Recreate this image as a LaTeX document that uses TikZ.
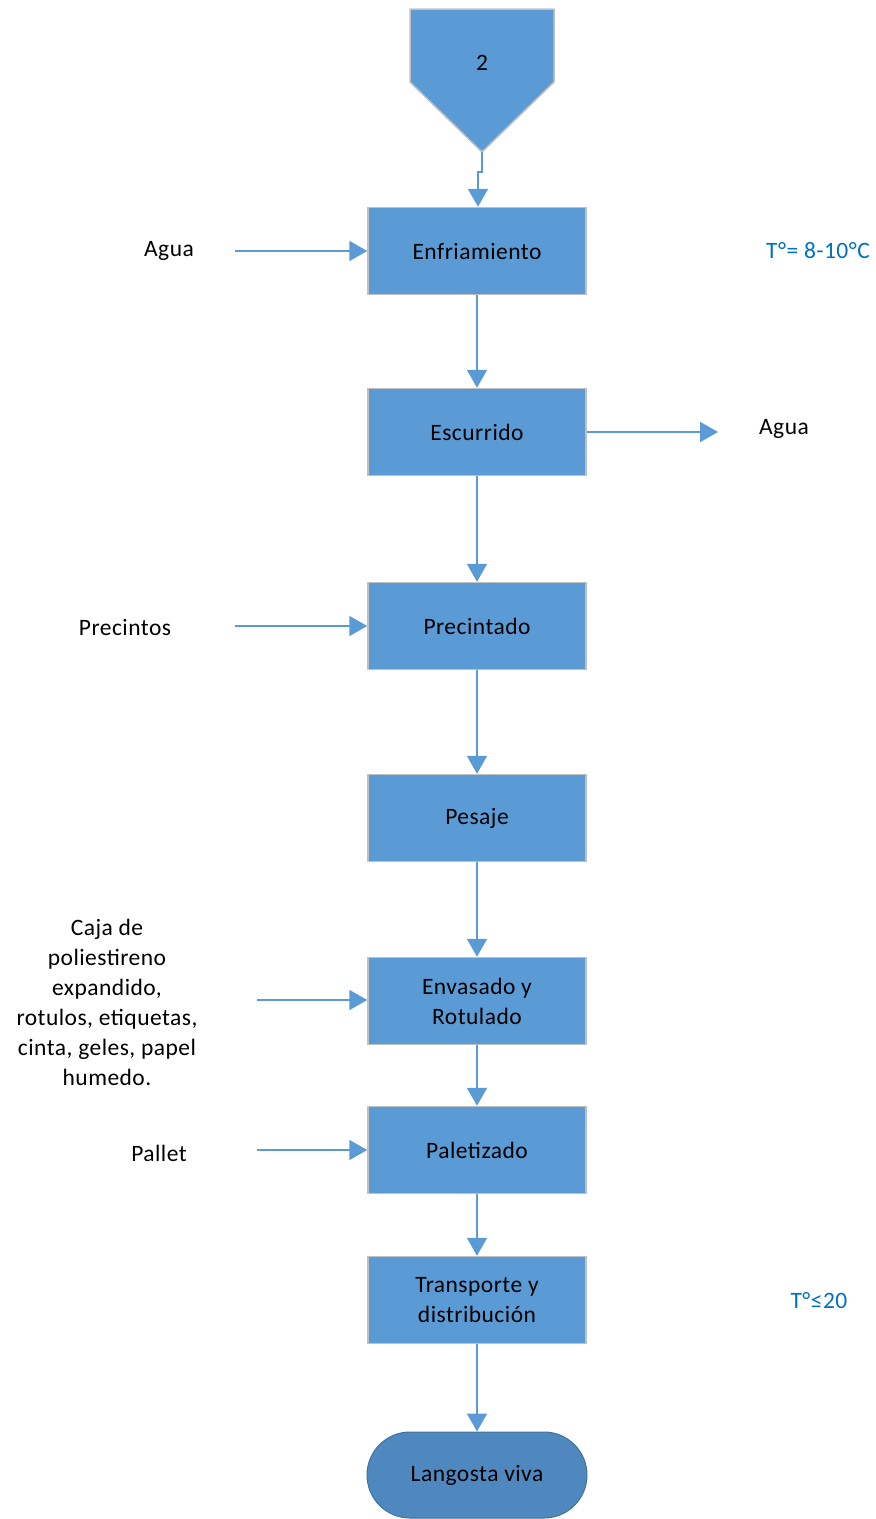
\documentclass[tikz,border=0pt]{standalone}
\usepackage{fontspec}
\setmainfont{Carlito}[LetterSpace=2]
\usetikzlibrary{arrows.meta,shapes.misc}
\definecolor{boxblue}{HTML}{5B9BD5}
\definecolor{termblue}{HTML}{4F88BE}
\definecolor{termedge}{HTML}{41719C}
\definecolor{edgegray}{HTML}{C0C0C0}
\definecolor{lblue}{HTML}{0070C0}
\tikzset{
  x=1pt,y=-1pt,
  every node/.style={font=\fontsize{23.5}{30}\selectfont},
  proc/.style={draw=edgegray,line width=1.5pt,fill=boxblue,minimum width=218pt,minimum height=87pt,align=center,inner sep=0pt},
  term/.style={draw=termedge,line width=1pt,fill=termblue,rounded rectangle,minimum width=220pt,minimum height=86pt,inner sep=0pt},
  flow/.style={draw=boxblue,line width=2pt,-{Triangle[width=20pt,length=18pt]}},
  lbl/.style={align=center,inner sep=0pt},
  note/.style={text=lblue,inner sep=0pt}
}
\begin{document}
\begin{tikzpicture}
\useasboundingbox (0,0) rectangle (876,1519);
% off-page connector
\draw[draw=edgegray,line width=1.5pt,fill=boxblue] (410,9) -- (554,9) -- (554,82) -- (482,152) -- (410,82) -- cycle;
\node[inner sep=0pt] (c2) at (482,63) {2};
\coordinate (ctip) at (482,152);
\node[proc] (enf) at (477,251) {Enfriamiento};
\node[proc] (esc) at (477,432) {Escurrido};
\node[proc] (pre) at (477,626) {Precintado};
\node[proc] (pes) at (477,818) {Pesaje};
\node[proc] (env) at (477,1001) {Envasado y\\Rotulado};
\node[proc] (pal) at (477,1150) {Paletizado};
\node[proc] (tra) at (477,1300) {Transporte y\\distribución};
\node[term] (lan) at (477,1475) {Langosta viva};
% side labels
\node[lbl] (agua1) at (169,251) {Agua};
\node[note] (t1) at (818,251) {T°= 8-10°C};
\node[lbl] (agua2) at (784,429) {Agua};
\node[lbl] (prec) at (125,627) {Precintos};
\node[lbl] (caja) at (107,1002) {Caja de\\poliestireno\\expandido,\\rotulos, etiquetas,\\cinta, geles, papel\\humedo.};
\node[lbl] (pallet) at (159,1153) {Pallet};
\node[note] (t2) at (819,1301) {T°≤20};
\coordinate (a1s) at (235,251);
\coordinate (a2e) at (718,432);
\coordinate (a3s) at (235,626);
\coordinate (a4s) at (257,1000);
\coordinate (a5s) at (257,1150);
% connectors
\draw[flow] (ctip) -- (482,172) -- (478,172) -- (enf.north -| 478,0);
\draw[flow] (enf) -- (esc);
\draw[flow] (esc) -- (pre);
\draw[flow] (pre) -- (pes);
\draw[flow] (pes) -- (env);
\draw[flow] (env) -- (pal);
\draw[flow] (pal) -- (tra);
\draw[flow] (tra) -- (lan);
\draw[flow] (a1s) -- (enf.west |- a1s);
\draw[flow] (esc.east |- a2e) -- (a2e);
\draw[flow] (a3s) -- (pre.west |- a3s);
\draw[flow] (a4s) -- (env.west |- a4s);
\draw[flow] (a5s) -- (pal.west |- a5s);
\end{tikzpicture}
\end{document}
